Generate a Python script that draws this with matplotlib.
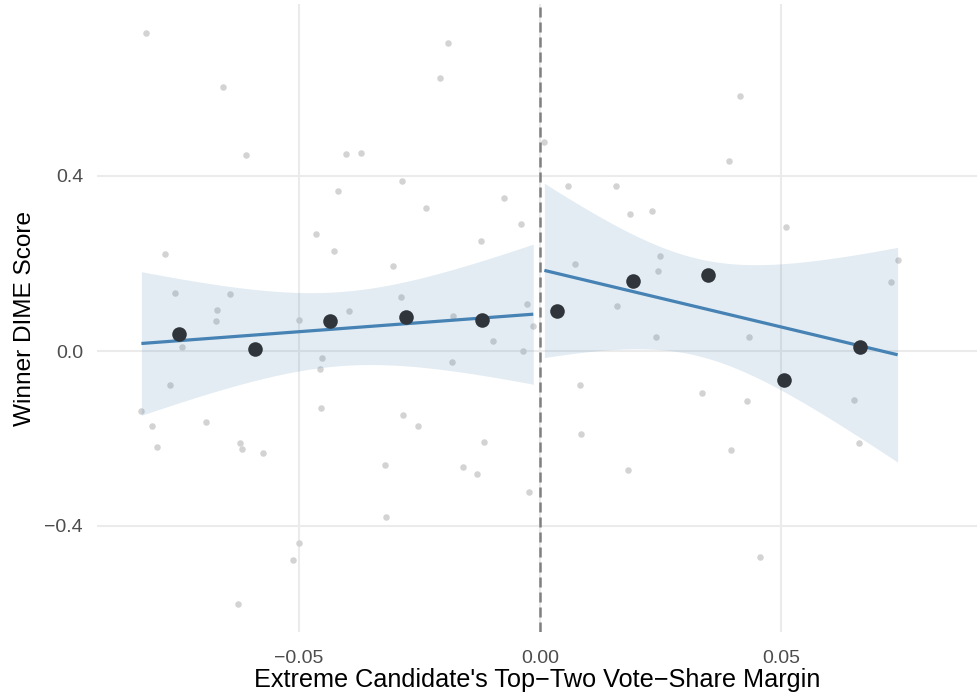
import numpy as np
import matplotlib
matplotlib.use('Agg')
import matplotlib.pyplot as plt

plt.rcParams['font.family'] = ['Liberation Sans', 'DejaVu Sans']

# raw observations, left of the cutoff
left_x = [-0.0817, -0.0658, -0.0609, -0.0190, -0.0207, -0.0402, -0.0371, -0.0286,
          -0.0419, -0.0236, -0.0075, -0.0039, -0.0465, -0.0428, -0.0122, -0.0304,
          -0.0777, -0.0758, -0.0643, -0.0288, -0.0670, -0.0672, -0.0397, -0.0501,
          -0.0180, -0.0026, -0.0014, -0.0097, -0.0743, -0.0036, -0.0452, -0.0457,
          -0.0183, -0.0768, -0.0827, -0.0454, -0.0805, -0.0692, -0.0795, -0.0623,
          -0.0618, -0.0574, -0.0116, -0.0322, -0.0159, -0.0131, -0.0023, -0.0320,
          -0.0501, -0.0512, -0.0626, -0.0285, -0.0253]
left_y = [0.7275, 0.604, 0.449, 0.703, 0.624, 0.450, 0.453, 0.389,
          0.366, 0.328, 0.350, 0.291, 0.268, 0.228, 0.251, 0.194,
          0.222, 0.133, 0.131, 0.124, 0.094, 0.069, 0.091, 0.070,
          0.081, 0.108, 0.058, 0.024, 0.010, 0.000, -0.017, -0.040,
          -0.024, -0.078, -0.136, -0.130, -0.171, -0.163, -0.220, -0.210,
          -0.224, -0.234, -0.208, -0.261, -0.266, -0.281, -0.322, -0.380,
          -0.438, -0.477, -0.578, -0.146, -0.172]

# raw observations, right of the cutoff
right_x = [0.0009, 0.0415, 0.0392, 0.0059, 0.0157, 0.0187, 0.0233, 0.0510,
           0.0248, 0.0245, 0.0072, 0.0742, 0.0728, 0.0160, 0.0240, 0.0433,
           0.0082, 0.0337, 0.0429, 0.0652, 0.0086, 0.0396, 0.0662, 0.0183,
           0.0456]
right_y = [0.477, 0.584, 0.434, 0.378, 0.378, 0.313, 0.321, 0.284,
           0.218, 0.183, 0.198, 0.208, 0.157, 0.104, 0.031, 0.031,
           -0.078, -0.097, -0.114, -0.112, -0.189, -0.226, -0.210, -0.273,
           -0.470]

# binned means
bin_x = [-0.0750, -0.0591, -0.0435, -0.0277, -0.0121, 0.0036, 0.0193, 0.0349, 0.0506, 0.0664]
bin_y = [0.040, 0.004, 0.069, 0.078, 0.070, 0.092, 0.159, 0.174, -0.067, 0.010]

x_ticks = [-0.05, 0.00, 0.05]
x_labels = ['\u22120.05', '0.00', '0.05']
y_ticks = [-0.4, 0.0, 0.4]
y_labels = ['\u22120.4', '0.0', '0.4']


def lm_band(x, y, n_grid=80):
    # linear fit with 95% confidence band
    x = np.asarray(x)
    y = np.asarray(y)
    n = len(x)
    b, a = np.polyfit(x, y, 1)
    resid = y - (a + b * x)
    s = np.sqrt(np.sum(resid ** 2) / (n - 2))
    xbar = x.mean()
    sxx = np.sum((x - xbar) ** 2)
    z = 1.959964
    nu = n - 2
    t = z + (z ** 3 + z) / (4 * nu) + (5 * z ** 5 + 16 * z ** 3 + 3 * z) / (96 * nu ** 2)
    xs = np.linspace(x.min(), x.max(), n_grid)
    fit = a + b * xs
    se = s * np.sqrt(1 / n + (xs - xbar) ** 2 / sxx)
    return xs, fit, fit - t * se, fit + t * se


fig = plt.figure(figsize=(9.77, 6.98), dpi=100)
ax = fig.add_axes([97 / 977, (698 - 632) / 698, 880 / 977, 628 / 698])

ax.scatter(left_x + right_x, left_y + right_y, s=22, color='#D3D3D3', linewidths=0, zorder=2)

for xs_, ys_ in [(left_x, left_y), (right_x, right_y)]:
    xs, fit, lo, hi = lm_band(xs_, ys_)
    ax.fill_between(xs, lo, hi, color='steelblue', alpha=0.15, linewidth=0, zorder=3)
    ax.plot(xs, fit, color='steelblue', lw=2.3, zorder=4, solid_capstyle='butt')

ax.axvline(0, color='#808080', lw=1.8, linestyle=(0, (4, 2)), zorder=5)

ax.scatter(bin_x, bin_y, s=110, color='#2F353B', linewidths=0, zorder=6)

ax.set_xlim((97 - 540) / 4820, (977 - 540) / 4820)
ax.set_ylim((351 - 632) / 437.5, (351 - 4) / 437.5)

ax.set_xticks(x_ticks)
ax.set_xticklabels(x_labels)
ax.set_yticks(y_ticks)
ax.set_yticklabels(y_labels)
ax.grid(True, color='#EBEBEB', lw=1.5, zorder=0)
ax.set_axisbelow(True)
for sp in ax.spines.values():
    sp.set_visible(False)
ax.tick_params(length=0, labelsize=14, labelcolor='#4D4D4D')
ax.tick_params(axis='x', pad=13)
ax.tick_params(axis='y', pad=10)

ax.set_xlabel("Extreme Candidate's Top\u2212Two Vote\u2212Share Margin", fontsize=18.2, labelpad=1)
ax.set_ylabel('Winner DIME Score', fontsize=17.6, labelpad=6)

fig.savefig('out.png', dpi=100, facecolor='white')
